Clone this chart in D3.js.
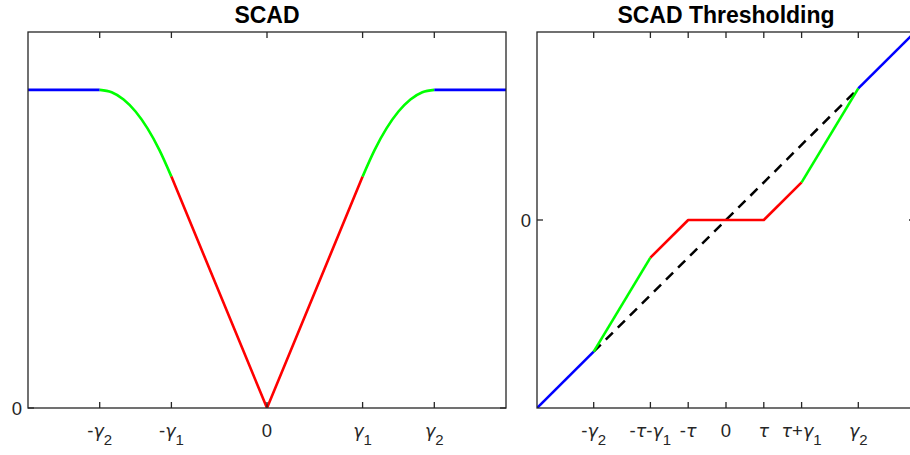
<!DOCTYPE html>
<html>
<head>
<meta charset="utf-8">
<script src="https://cdn.jsdelivr.net/npm/d3@7"></script>
<style>
  html, body { margin: 0; padding: 0; background: #fff; }
  svg { display: block; }
</style>
</head>
<body>
<svg id="fig" width="910" height="455"></svg>
<script>
// ---- SCAD penalty curve (left panel) ----
const scadX = [-5, -3.5, -3.25, -3, -2.75, -2.5, -2.25, -2, 0, 2, 2.25, 2.5, 2.75, 3, 3.25, 3.5, 5];
const scadY = [5.5, 5.5, 5.458, 5.333, 5.125, 4.833, 4.458, 4, 0, 4, 4.458, 4.833, 5.125, 5.333, 5.458, 5.5, 5.5];
const scadBreaks = [2, 3.5];               // |x| limits of the red / green pieces
const scadTicks = [-3.5, -2, 0, 2, 3.5];
const scadTickLabels = ["-γ_2", "-γ_1", "0", "γ_1", "γ_2"];

// ---- SCAD thresholding rule (right panel) ----
const thrX = [-5, -3.5, -2, -1, 1, 2, 3.5, 5];
const thrY = [-5, -3.5, -1, 0, 0, 1, 3.5, 5];
const thrBreaks = [2, 3.5];
const identX = [-3.5, 3.5];
const identY = [-3.5, 3.5];
const thrTicks = [-3.5, -2, -1, 0, 1, 2, 3.5];
const thrTickLabels = ["-γ_2", "-τ-γ_1", "-τ", "0", "τ", "τ+γ_1", "γ_2"];

const pieceColors = { inner: "#ff0000", middle: "#00ff00", outer: "#0000ff" };
const axisColor = "#262626";
const fontFamily = "'Liberation Sans', Arial, Helvetica, sans-serif";
const greekFamily = "'DejaVu Sans', sans-serif";

const svg = d3.select("#fig");

// Split a polyline into the three SCAD regions by |x|
function pieces(xs, ys, br) {
  const pts = xs.map((x, i) => [x, ys[i]]);
  return [
    { c: pieceColors.outer, smooth: false, p: pts.filter(d => d[0] <= -br[1]) },
    { c: pieceColors.middle, smooth: true, p: pts.filter(d => d[0] >= -br[1] && d[0] <= -br[0]) },
    { c: pieceColors.inner, smooth: false, p: pts.filter(d => d[0] >= -br[0] && d[0] <= br[0]) },
    { c: pieceColors.middle, smooth: true, p: pts.filter(d => d[0] >= br[0] && d[0] <= br[1]) },
    { c: pieceColors.outer, smooth: false, p: pts.filter(d => d[0] >= br[1]) }
  ];
}

// Tick label with oblique Greek letters and "_n" subscripts
function texLabel(sel, str) {
  const parts = [];
  for (let i = 0; i < str.length; i++) {
    const ch = str[i];
    if (ch === "_") { parts.push({ t: str[i + 1], sub: true }); i++; }
    else parts.push({ t: ch, greek: /[α-ω]/.test(ch) });
  }
  parts.forEach(p => {
    const ts = sel.append("tspan").text(p.t);
    if (p.greek) ts.attr("font-style", "italic").attr("font-family", greekFamily).attr("font-size", 17.5);
    if (p.sub) ts.attr("font-size", 15).attr("dy", 8);
  });
}

function panel(opt) {
  const g = svg.append("g");
  const x = d3.scaleLinear().domain(opt.xDomain).range([opt.left, opt.right]);
  const y = d3.scaleLinear().domain(opt.yDomain).range([opt.bottom, opt.top]);

  const clipId = "clip" + opt.id;
  svg.append("clipPath").attr("id", clipId).append("rect")
    .attr("x", opt.left).attr("y", opt.top)
    .attr("width", opt.right - opt.left).attr("height", opt.bottom - opt.top);

  const plot = g.append("g").attr("clip-path", `url(#${clipId})`);
  const straight = d3.line().x(d => x(d[0])).y(d => y(d[1]));
  const smooth = d3.line().x(d => x(d[0])).y(d => y(d[1])).curve(d3.curveMonotoneX);

  if (opt.dashed) {
    plot.append("path")
      .attr("d", straight(opt.dashed))
      .attr("fill", "none").attr("stroke", "#000").attr("stroke-width", 2.5)
      .attr("stroke-dasharray", "10,7");
  }
  opt.pieces.forEach(pc => {
    plot.append("path").attr("d", (pc.smooth ? smooth : straight)(pc.p))
      .attr("fill", "none").attr("stroke", pc.c).attr("stroke-width", 2.6)
      .attr("stroke-linejoin", "round");
  });

  // box
  g.append("rect")
    .attr("x", opt.left).attr("y", opt.top)
    .attr("width", opt.right - opt.left).attr("height", opt.bottom - opt.top)
    .attr("fill", "none").attr("stroke", axisColor).attr("stroke-width", 1.3);

  const tl = 6;
  // x ticks (bottom and top, pointing inward)
  opt.xTicks.forEach((v, i) => {
    const px = x(v);
    g.append("line").attr("x1", px).attr("x2", px).attr("y1", opt.bottom).attr("y2", opt.bottom - tl)
      .attr("stroke", axisColor).attr("stroke-width", 1.3);
    g.append("line").attr("x1", px).attr("x2", px).attr("y1", opt.top).attr("y2", opt.top + tl)
      .attr("stroke", axisColor).attr("stroke-width", 1.3);
    const t = g.append("text").attr("x", px).attr("y", opt.bottom + 29)
      .attr("text-anchor", "middle").attr("font-family", fontFamily)
      .attr("font-size", 18.5).attr("fill", axisColor);
    texLabel(t, opt.xLabels[i]);
  });
  // y ticks
  opt.yTicks.forEach((v, i) => {
    const py = y(v);
    g.append("line").attr("x1", opt.left).attr("x2", opt.left + tl).attr("y1", py).attr("y2", py)
      .attr("stroke", axisColor).attr("stroke-width", 1.3);
    g.append("line").attr("x1", opt.right).attr("x2", opt.right - tl).attr("y1", py).attr("y2", py)
      .attr("stroke", axisColor).attr("stroke-width", 1.3);
    g.append("text").attr("x", opt.left - 6).attr("y", py + 6.5)
      .attr("text-anchor", "end").attr("font-family", fontFamily)
      .attr("font-size", 18.5).attr("fill", axisColor).text(opt.yLabels[i]);
  });

  g.append("text").attr("x", (opt.left + opt.right) / 2).attr("y", 23)
    .attr("text-anchor", "middle").attr("font-family", fontFamily)
    .attr("font-weight", "bold").attr("font-size", 23).attr("fill", "#000")
    .text(opt.title);
}

panel({
  id: "L", title: "SCAD",
  left: 28, right: 506, top: 32, bottom: 408,
  xDomain: [-5, 5], yDomain: [0, 6.5],
  pieces: pieces(scadX, scadY, scadBreaks),
  xTicks: scadTicks, xLabels: scadTickLabels,
  yTicks: [0], yLabels: ["0"]
});

panel({
  id: "R", title: "SCAD Thresholding",
  left: 537, right: 915, top: 32, bottom: 408,
  xDomain: [-5, 5], yDomain: [-5, 5],
  pieces: pieces(thrX, thrY, thrBreaks),
  dashed: identX.map((v, i) => [v, identY[i]]),
  xTicks: thrTicks, xLabels: thrTickLabels,
  yTicks: [0], yLabels: ["0"]
});
</script>
</body>
</html>
